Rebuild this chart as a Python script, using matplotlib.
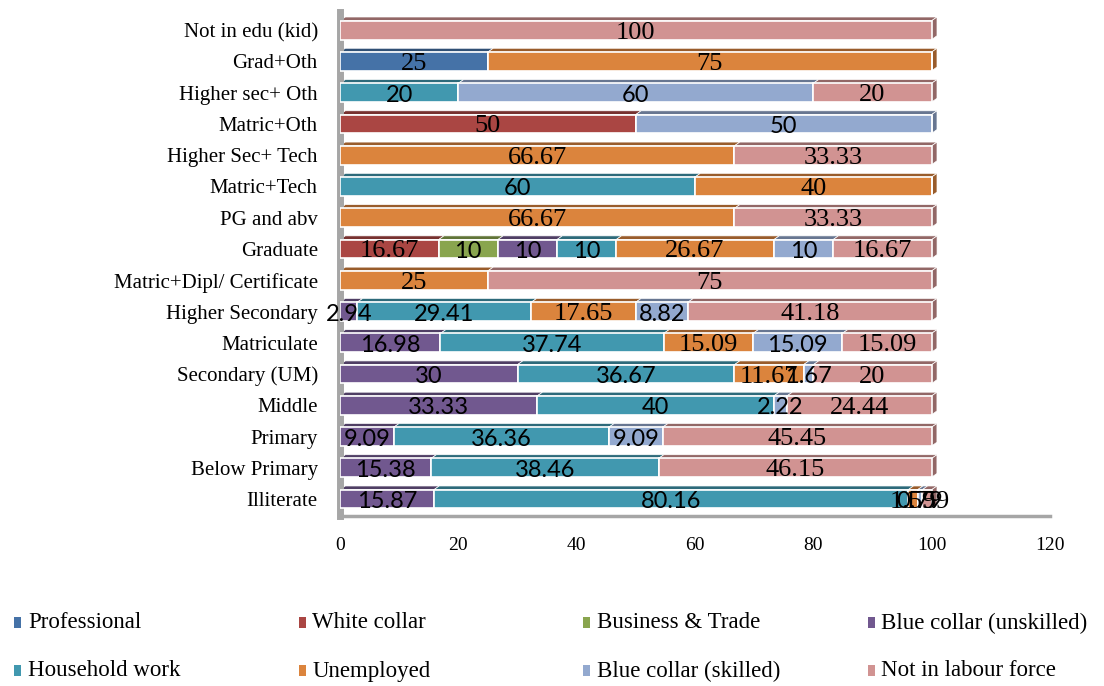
import matplotlib.pyplot as plt
from matplotlib.patches import Polygon, Rectangle
import matplotlib.colors as mcolors
import matplotlib.transforms as mtransforms

categorias = ["Illiterate", "Below Primary", "Primary", "Middle", "Secondary (UM)",
              "Matriculate", "Higher Secondary", "Matric+Dipl/ Certificate", "Graduate",
              "PG and abv", "Matric+Tech", "Higher Sec+ Tech", "Matric+Oth",
              "Higher sec+ Oth", "Grad+Oth", "Not in edu (kid)"]

professional = [0, 0, 0, 0, 0, 0, 0, 0, 0, 0, 0, 0, 0, 0, 25, 0]
white_collar = [0, 0, 0, 0, 0, 0, 0, 0, 16.67, 0, 0, 0, 50, 0, 0, 0]
business = [0, 0, 0, 0, 0, 0, 0, 0, 10, 0, 0, 0, 0, 0, 0, 0]
unskilled = [15.87, 15.38, 9.09, 33.33, 30, 16.98, 2.94, 0, 10, 0, 0, 0, 0, 0, 0, 0]
household = [80.16, 38.46, 36.36, 40, 36.67, 37.74, 29.41, 0, 10, 0, 60, 0, 0, 20, 0, 0]
unemployed = [1.59, 0, 0, 0, 11.67, 15.09, 17.65, 25, 26.67, 66.67, 40, 66.67, 0, 0, 75, 0]
skilled = [0.79, 0, 9.09, 2.22, 1.67, 15.09, 8.82, 0, 10, 0, 0, 0, 50, 60, 0, 0]
not_lf = [1.59, 46.15, 45.45, 24.44, 20, 15.09, 41.18, 75, 16.67, 33.33, 0, 33.33, 0, 20, 0, 100]

series = ["Professional", "White collar", "Business & Trade", "Blue collar (unskilled)",
          "Household work", "Unemployed", "Blue collar (skilled)", "Not in labour force"]
valores = [professional, white_collar, business, unskilled, household, unemployed, skilled, not_lf]
cores = ["#4572A7", "#AA4643", "#89A54E", "#71588F", "#4198AF", "#DB843D", "#93A9CF", "#D19392"]
# serif labels for some series, Calibri-ish for the others (as in the original)
fontes = ["Liberation Serif", "Liberation Serif", "Lato", "Lato",
          "Lato", "Liberation Serif", "Lato", "Liberation Serif"]
tamanhos = {"Liberation Serif": 19, "Lato": 17}

fig = plt.figure(figsize=(11.04, 6.86), dpi=100)
ax = fig.add_axes([340 / 1104, 1 - 516 / 686, 710 / 1104, 504 / 686])

y = list(range(len(categorias)))
h = 0.6
dx, dy = 0.9, 0.12
esquerda = [0] * len(categorias)
for s, vals in enumerate(valores):
    escura = [c * 0.7 for c in mcolors.to_rgb(cores[s])]
    ax.barh(y, vals, left=esquerda, height=h, color=cores[s], edgecolor="white",
            linewidth=1.2, label=series[s], zorder=3)
    for i, v in enumerate(vals):
        if v <= 0:
            continue
        l = esquerda[i]
        r = l + v
        top = y[i] + h / 2
        ax.add_patch(Polygon([(l, top), (l + dx, top + dy), (r + dx, top + dy), (r, top)],
                             closed=True, facecolor=escura, edgecolor="white",
                             linewidth=0.5, zorder=2))
        if abs(r - 100) < 0.05:
            bot = y[i] - h / 2
            ax.add_patch(Polygon([(r, bot), (r + dx, bot + dy), (r + dx, top + dy), (r, top)],
                                 closed=True, facecolor=escura, edgecolor="white",
                                 linewidth=0.5, zorder=2))
        ax.text(l + v / 2, y[i] - 0.08, f"{v:g}", ha="center", va="center",
                fontsize=tamanhos[fontes[s]], family=fontes[s], color="black", zorder=5)
    esquerda = [a + b for a, b in zip(esquerda, vals)]

ax.set_xlim(0, 120)
ax.set_ylim(-0.54, 15.58)
ax.set_xticks([0, 20, 40, 60, 80, 100, 120])
ax.set_yticks(y)
ax.set_yticklabels(categorias)
desce = mtransforms.ScaledTranslation(0, -5 / 100, fig.dpi_scale_trans)
for t in ax.get_yticklabels():
    t.set_family("Liberation Serif")
    t.set_fontsize(15)
    t.set_transform(t.get_transform() + desce)
for t in ax.get_xticklabels():
    t.set_family("Liberation Serif")
    t.set_fontsize(14)
ax.tick_params(axis="y", length=0, pad=16)
ax.tick_params(axis="x", length=0, pad=15)
for lado in ["top", "right"]:
    ax.spines[lado].set_visible(False)
ax.spines["left"].set_color("#A6A6A6")
ax.spines["left"].set_linewidth(5)
ax.spines["bottom"].set_color("#A6A6A6")
ax.spines["bottom"].set_linewidth(2.5)
ax.set_facecolor("none")

# legend, 4 columns x 2 rows
for i, nome in enumerate(series):
    col, lin = i % 4, i // 4
    x0 = (14 + col * 284.5) / 1104
    y0 = 1 - (623 + lin * 48) / 686
    fig.patches.append(Rectangle((x0, y0 - 5 / 686), 7 / 1104, 11 / 686,
                                 transform=fig.transFigure, facecolor=cores[i],
                                 edgecolor="none"))
    fig.text(x0 + 14 / 1104, y0, nome, va="center", ha="left",
             family="Liberation Serif", fontsize=16.5)

fig.savefig("out.png", dpi=100)
